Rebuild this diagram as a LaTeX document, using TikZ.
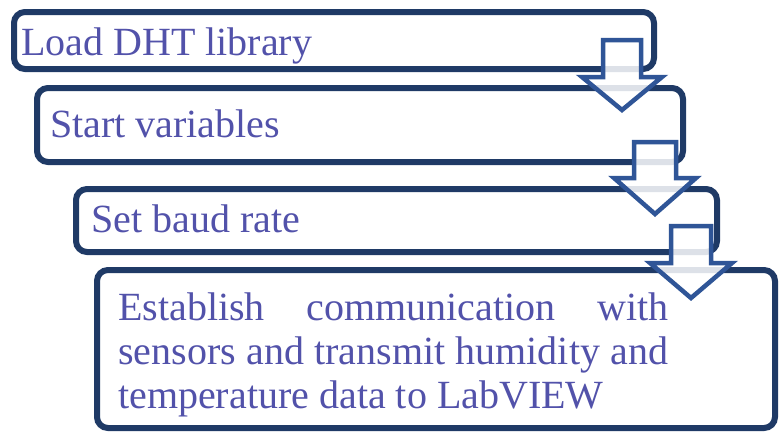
\documentclass[tikz,border=0pt]{standalone}
\usepackage{fontspec}
\setmainfont{Liberation Serif}
\definecolor{boxc}{RGB}{31,58,102}
\definecolor{arrc}{RGB}{47,85,151}
\definecolor{txtc}{RGB}{82,82,170}
\begin{document}
\begin{tikzpicture}[x=1pt,y=-1pt,
  stepbox/.style={draw=boxc,line width=6pt,rounded corners=11pt,fill=white},
  steptext/.style={anchor=base west,inner sep=0pt,text=txtc,font=\fontsize{40}{44}\selectfont},
  blockarrow/.style={draw=arrc,line width=4.5pt,fill=white,fill opacity=0.85,line join=miter}]
\useasboundingbox (0,0) rectangle (779,432);
% boxes
\draw[stepbox] (14,12) rectangle (654,69);
\draw[stepbox] (37,88) rectangle (683,162);
\draw[stepbox] (76,189) rectangle (717,252);
\draw[stepbox] (97,270) rectangle (775,428);
% texts
\node[steptext] (t1) at (21,55) {Load DHT library};
\node[steptext] (t2) at (50,137) {Start variables};
\node[steptext] (t3) at (91,232) {Set baud rate};
\node[steptext] (t4a) at (118,320) {\makebox[550pt][s]{Establish communication with}};
\node[steptext] (t4b) at (118,364) {\makebox[550pt][s]{sensors and transmit humidity and}};
\node[steptext] (t4c) at (118,408) {temperature data to LabVIEW};
% block arrows
\draw[blockarrow] (603,40) -- (641,40) -- (641,77) -- (662,77) -- (622,110) -- (582,77) -- (603,77) -- cycle;
\draw[blockarrow] (634,142) -- (676,142) -- (676,178) -- (696,178) -- (655,214) -- (614,178) -- (634,178) -- cycle;
\draw[blockarrow] (671,226) -- (711,226) -- (711,263) -- (732,263) -- (691,298) -- (650,263) -- (671,263) -- cycle;
\end{tikzpicture}
\end{document}
